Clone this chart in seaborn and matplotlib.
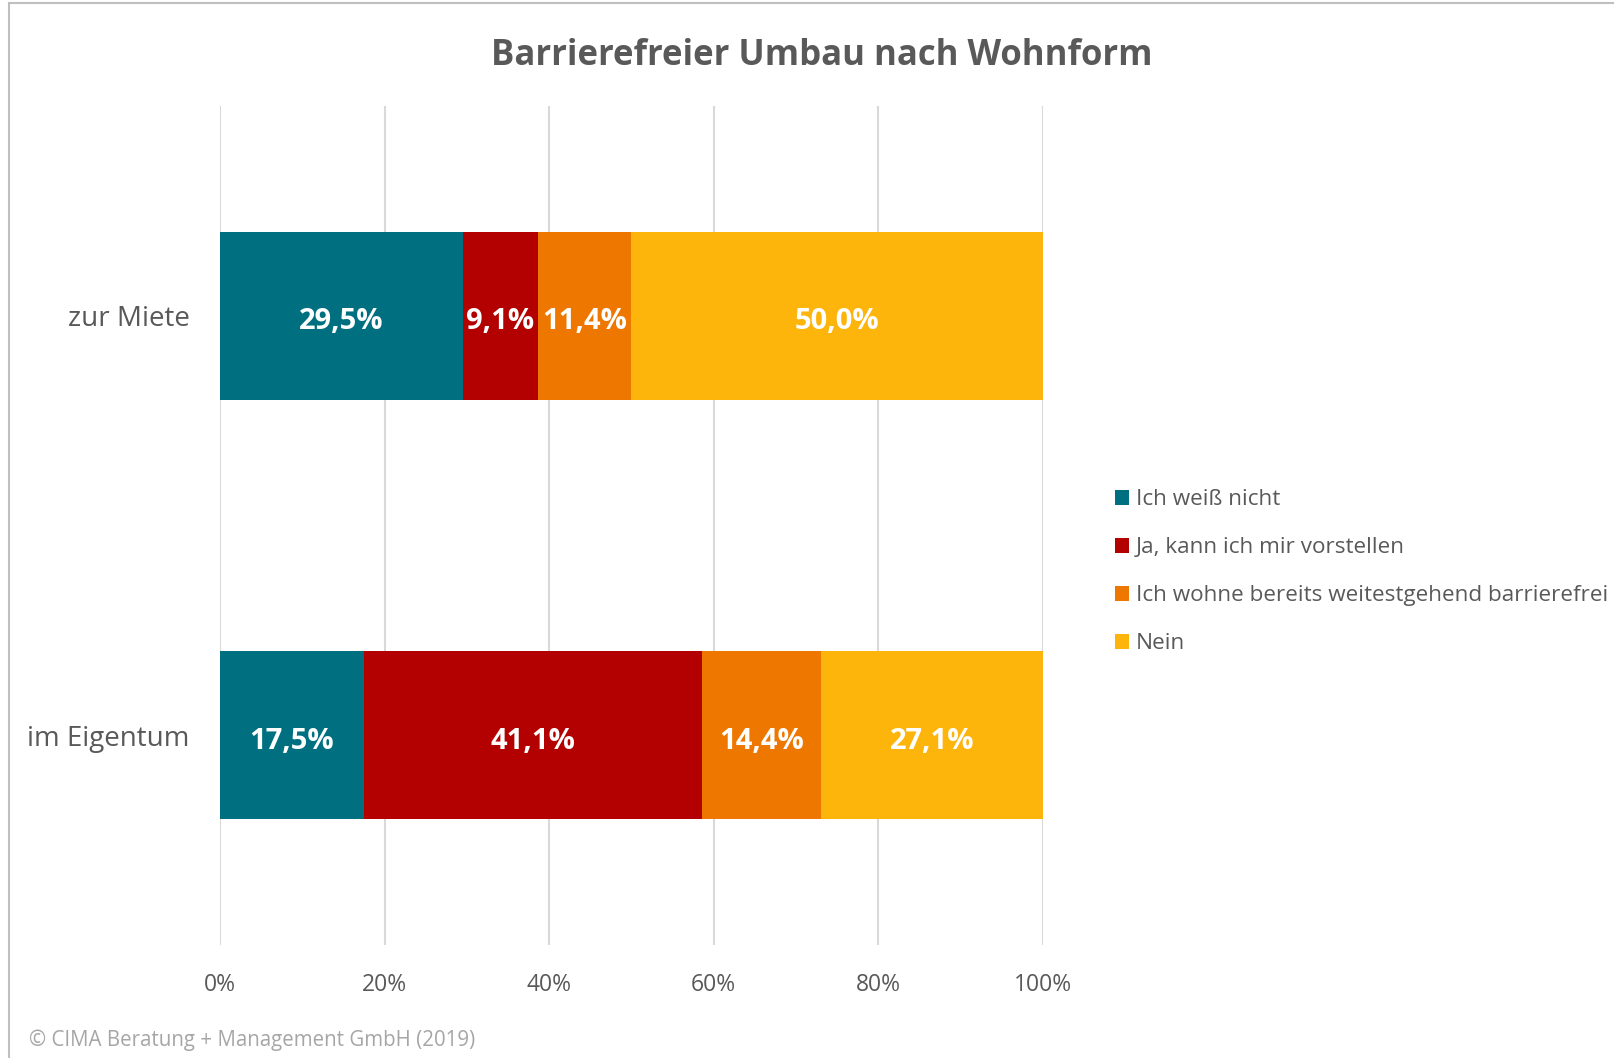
import numpy as np
import pandas as pd
import matplotlib
matplotlib.use("Agg")
import matplotlib.pyplot as plt
import seaborn as sns
from matplotlib.patches import Patch, Rectangle
from matplotlib.transforms import offset_copy

categories = ["zur Miete", "im Eigentum"]
series_names = ["Ich weiß nicht", "Ja, kann ich mir vorstellen",
                "Ich wohne bereits weitestgehend barrierefrei", "Nein"]
weiss_nicht = [29.5, 17.5]
ja = [9.1, 41.1]
bereits = [11.4, 14.4]
nein = [50.0, 27.1]
colors = ["#007080", "#B30000", "#EE7700", "#FDB50C"]
tick_labels = ["0%", "20%", "40%", "60%", "80%", "100%"]

sns.set_theme(style="white")
plt.rcParams['font.family'] = ['Open Sans', 'DejaVu Sans']

fig = plt.figure(figsize=(16.15, 10.58), dpi=100)
ax = fig.add_axes([0.1362, 0.1068, 0.6458 - 0.1362, 0.8998 - 0.1068])

values = [weiss_nicht, ja, bereits, nein]
cum = np.cumsum(np.array(values), axis=0)
df = pd.DataFrame({"cat": categories})
for i in range(len(values) - 1, -1, -1):
    df["v"] = cum[i]
    sns.barplot(data=df, x="v", y="cat", orient="h", color=colors[i],
                width=0.4, ax=ax, saturation=1, linewidth=0, zorder=3)

label_tr = offset_copy(ax.transData, fig=fig, x=0, y=-6, units="dots")
for i, vals in enumerate(values):
    for j, v in enumerate(vals):
        center = cum[i][j] - v / 2
        ax.text(center, j, f"{v:.1f}%".replace(".", ","), ha="center", va="center",
                color="white", fontsize=21, fontweight="bold", zorder=5,
                transform=label_tr)

ax.set_xlim(0, 100)
ax.set_ylim(1.5, -0.5)
ax.set_xticks(np.arange(0, 101, 20))
ax.set_xticklabels(tick_labels, fontsize=16.5, color="#595959")
ax.tick_params(axis="x", length=0, pad=20)
ax.tick_params(axis="y", length=0, pad=22, labelsize=20, labelcolor="#595959")
ax.set_xlabel("")
ax.set_ylabel("")
ax.grid(axis="x", color="#D9D9D9", linewidth=1.5, zorder=0)
ax.set_axisbelow(True)
for s in ax.spines.values():
    s.set_visible(False)

handles = [Patch(facecolor=c, edgecolor="none", label=n) for c, n in zip(colors, series_names)]
leg = fig.legend(handles=handles, loc="upper left", bbox_to_anchor=(0.685, 0.546),
                 frameon=False, fontsize=16.2, labelcolor="#595959",
                 handlelength=0.6, handleheight=0.6, handletextpad=0.3,
                 labelspacing=1.2, borderaxespad=0)

fig.text(0.509, 0.947, "Barrierefreier Umbau nach Wohnform", ha="center", va="center",
         fontsize=25, fontweight="bold", color="#595959")
fig.text(0.018, 0.017, "© CIMA Beratung + Management GmbH (2019)", ha="left", va="center",
         fontsize=14.8, color="#A6A6A6")

fig.add_artist(Rectangle((0.0056, -0.01), 1.1, 1.007, transform=fig.transFigure,
                         fill=False, edgecolor="#BFBFBF", linewidth=1.5))

fig.savefig("out.png", dpi=100)
